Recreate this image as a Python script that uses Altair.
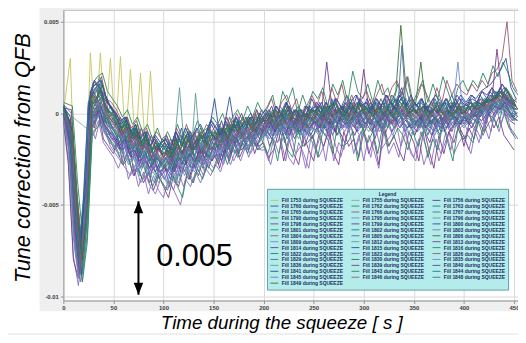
import altair as alt
import pandas as pd

# sampling grid (s): one value every 5 s, each fill sampled with its own small time phase
steps = list(range(0, 91))
phases = [2, 0, 1, 3, 4, 2, 0, 1, 3, 2, 4, 1, 0, 3, 2, 4, 1, 2, 0, 3, 4, 1,
          2, 0, 3, 1, 4, 2, 0, 3, 1, 2, 4, 0, 3, 1, 2, 4, 0, 1, 3, 2, 4]
xtick_values = [0, 50, 100, 150, 200, 250, 300, 350, 400, 450]
ytick_values = [0.005, 0, -0.005, -0.01]
ytick_labels = ["0.005", "0", "-0.005", "-0.01"]

fills = [1753, 1755, 1756, 1760, 1762, 1763, 1765, 1766, 1767, 1790, 1795, 1796,
         1798, 1799, 1800, 1801, 1802, 1803, 1804, 1805, 1806, 1809, 1812, 1813,
         1814, 1815, 1816, 1822, 1823, 1826, 1829, 1830, 1835, 1836, 1839, 1840,
         1841, 1843, 1844, 1845, 1846, 1848, 1849]

# tune correction values, in units of 1e-4
s1753 = [0,30,-55,-78,-50,33,-10,33,-8,30, -12,31,-15,24,-18,22,-20,23,-22,-24, -26,-22,-28,-20,-25,-21,-27,-19,-22,-18, -20]
s1755 = [2,None,None,None,None,-9,8,14,6,-2, -5,-14,-10,-20,-12,-24,-16,-20,-28,-18, -22,-30,-18,-26,-20,-14,-25,-17,-22,-12, -20,-11,-18,-8,-16,-10,-14,-6,-12,-4, -10,-2,-8,-1,-9,0,-7,-3,-10,1, -6,2,-5,4,-3,-1,5,-4,3,-2, 4,-5,2,-6,1,-3,5,-2,6,0, -4,3,-6,1,-5,2,-7,0,4,-3, 2,-4,5,1,7,0,9,4,10,2,5]
s1756 = [1,-18,-70,-90,-62,-4,-8,6,-10,-14, -20,-8,-26,-18,-34,-22,-30,-38,-24,-36, -28,-40,-26,-34,-22,-36,-28,-20,-32,-24, -18,-30,-20,-26,-14,-24,-18,-10,-22,-14, -8,-18,-10,-4,-16,-8,-14,-6,-18,-10, -4,-12,-6,-14,-2,-10,-16,-6,-12,-4, -10,-2,-14,-6,-12,-4,-8,2,-10,-6, -12,-4,-10,-16,-6,-12,-2,-10,-4,-8, -14,-4,-8,2,-6,4,-2,6,0,-4,-6]
s1760 = [3,-8,-48,-75,-40,10,12,18,8,2, 0,-6,-2,-12,-8,-16,-10,-20,-14,-22, -12,-20,-16,-8,-22,-12,-18,-10,-14,-6, -12,-4,-14,-8,-2,-10,-4,-8,2,-6, 0,-4,4,-2,6,0,-6,2,-2,8, 2,6,-2,8,0,4,10,2,6,-1, 8,2,6,0,10,4,8,14,2,6, 0,8,2,-2,6,0,4,10,2,8, 4,10,6,12,8,14,10,16,12,6,8]
s1762 = [-2,-22,-72,-88,-66,-6,-2,10,-8,-12, -14,-22,-12,-26,-18,-30,-20,-28,-34,-22, -32,-24,-36,-20,-30,-26,-18,-30,-22,-26, -14,-24,-20,-12,-22,-10,-18,-14,-6,-16, -4,-12,-8,-2,-14,-6,-10,-12,-2,-8, -10,0,-6,-12,-4,2,-8,-2,-6,4, -4,-10,2,-8,-2,-6,4,-4,-8,0, -8,-2,-12,-4,-10,-6,0,-8,-2,4, -6,2,-4,6,0,8,2,10,6,0,-2]
s1763 = [5,-5,-52,-80,-48,6,14,8,-2,4, -4,-10,-6,-16,-10,-24,-14,-18,-26,-16, -20,-28,-14,-22,-18,-26,-12,-20,-16,-10, -16,-8,-20,-10,-6,-14,-8,-4,-12,-2, -6,0,-10,-2,2,-8,-4,0,-8,2, -2,-8,4,-4,2,-6,0,6,-2,2, 0,6,-4,2,-6,4,8,0,4,-2, 2,-4,4,-6,0,6,-2,2,8,0, 2,-2,6,0,8,4,12,6,14,8,4]
s1765 = [-3,-25,-78,-94,-72,-10,-12,-4,-16,-20, -24,-30,-22,-36,-28,-40,-32,-44,-34,-42, -46,-36,-42,-32,-40,-30,-38,-28,-34,-26, -30,-22,-28,-18,-26,-20,-14,-24,-16,-20, -18,-26,-14,-22,-12,-24,-28,-16,-22,-30, -14,-24,-18,-10,-26,-16,-20,-8,-22,-12, -26,-12,-20,-30,-10,-22,-16,-24,-8,-18, -24,-14,-28,-20,-12,-26,-18,-10,-22,-16, -12,-20,-8,-16,-6,-14,-2,-10,0,-8,-12]
s1766 = [2,-12,-58,-84,-52,4,18,10,12,-2, 2,-4,-12,-6,-16,-10,-18,-22,-12,-20, -16,-24,-12,-20,-14,-22,-10,-18,-12,-8, -14,-6,-12,-2,-10,-8,-4,-10,0,-6, -2,2,-6,4,0,-4,2,-6,4,0, 6,0,4,-2,8,2,-4,4,0,6, 2,8,0,4,-2,6,2,10,4,0, 6,0,-2,4,-4,2,6,0,8,4, 0,6,2,8,4,10,6,12,8,4,6]
s1767 = [0,-10,-62,-86,-58,2,-4,4,-6,-8, -12,-18,-10,-22,-14,-26,-18,-30,-22,-28, -24,-32,-20,-28,-22,-18,-28,-16,-24,-14, -22,-12,-18,-10,-16,-8,-14,-6,-12,-10, -4,-10,-2,-8,0,-6,-10,-2,-8,-4, 0,-6,2,-8,-2,4,-4,0,-6,2, -4,2,-6,0,4,-2,2,-4,6,-2, -6,0,-4,2,-8,-2,-6,2,0,-4, -4,2,-2,4,0,6,2,8,4,-2,0]
s1790 = [4,-6,-44,-70,-38,12,6,16,4,0, -6,-2,-10,-14,-6,-18,-12,-22,-16,-20, -22,-14,-20,-12,-18,-10,-16,-8,-14,-12, -10,-14,-6,-12,-4,-10,-2,-8,-6,0, -6,-2,-8,0,-4,2,-2,-6,0,-4, 2,-2,4,0,6,-4,2,8,0,4, -2,4,0,8,2,6,12,48,14,4, 2,-4,6,0,4,-2,2,6,0,4, 2,6,0,4,8,2,10,6,14,10,4]
s1795 = [-1,-20,-66,-92,-64,-8,0,-6,-12,-10, -18,-14,-24,-20,-30,-24,-34,-28,-36,-30, -38,-28,-34,-26,-32,-24,-30,-22,-28,-20, -26,-18,-24,-14,-22,-16,-20,-12,-18,-10, -14,-8,-16,-6,-12,-10,-4,-12,-8,-14, -6,-10,-2,-8,-12,-4,-8,-2,-10,-6, -8,-4,-10,-2,-6,-12,-4,-8,-6,-10, -10,-6,-8,-12,-4,-10,-6,-2,-8,-4, -10,-6,-2,-6,0,-4,2,0,6,2,-2]
s1796 = [1,-4,-50,-82,-46,8,10,20,2,-6, -2,-10,-4,-14,-10,-20,-14,-22,-18,-24, -18,-26,-16,14,-20,-24,-14,-20,-12,-18, -10,-16,-8,-14,-6,-12,-10,-4,-12,-6, -2,-8,0,-6,2,-4,-8,0,-6,2, -2,4,-4,2,8,-2,0,-6,4,0, 2,-4,4,-2,0,6,2,-2,4,8, 0,4,-4,2,-2,4,0,-4,6,2, -2,4,0,6,2,8,4,10,6,2,4]
s1798 = [-4,-28,-80,-90,-70,-12,-6,2,-14,-18, -22,-16,-28,-24,-34,-30,-38,-32,-42,-34, -40,-46,-34,-40,-30,-36,-28,-34,-24,-30, -22,-28,-18,-24,-16,-22,-14,-20,-12,-18, -16,-24,-20,-10,-26,-14,-22,-28,-12,-20, -26,-12,-18,-8,-22,-28,-10,-18,-14,-24, -10,-22,-14,-28,-6,-18,-12,-20,-26,-10, -16,-26,-8,-20,-30,-12,-22,-10,-16,-6, -18,-8,-14,-4,-10,0,-8,-2,-12,-16,-20]
s1799 = [3,2,-40,-72,-36,14,16,12,6,4, -2,-8,-4,-10,-14,-8,-18,-12,-20,-16, -14,-22,-10,-18,-12,-16,-8,-14,-10,-4, -8,-12,-2,-10,-6,0,-8,-2,-4,2, -2,4,-4,0,6,-2,2,-4,4,0, 6,2,28,4,8,2,6,0,10,4, 6,0,8,4,2,10,6,12,4,8, 4,8,2,6,0,4,8,2,10,6, 4,8,6,12,10,14,8,16,12,8,6]
s1800 = [-2,-16,-64,-86,-60,-2,6,-4,-8,-12, -16,-20,-14,-24,-20,-30,-22,-28,-32,-26, -30,-36,-24,-30,-28,-22,-30,-18,-26,-22, -16,-24,-14,-20,-12,-18,-10,-16,-14,-8, -12,-6,-10,-4,-12,-2,-8,-10,-4,-12, -6,-2,-8,-4,-10,0,-6,-4,2,-8, -2,-6,0,-8,-4,2,-6,-2,-4,-8, -6,-2,-8,-4,-2,-10,-4,0,-6,2, -4,0,-2,2,-4,4,6,2,8,4,0]
s1801 = [6,4,-36,-66,-30,16,20,22,12,8, 4,-2,2,-6,-2,-10,-6,-14,-8,-16, -10,-16,-6,-14,-8,-12,-4,-10,-8,-2, -6,0,-8,-2,2,-4,4,-2,6,0, 4,10,-2,12,6,14,0,10,2,12, 8,14,4,16,10,18,6,23,12,8, 16,6,18,10,14,4,16,8,20,6, 12,18,6,16,8,20,12,4,14,18, 12,18,14,22,16,26,20,28,22,14,10]
s1802 = [0,-14,-56,-84,-56,4,-2,8,-4,-6, -10,-16,-8,-20,-16,-24,-20,-26,-22,-30, -26,-20,-30,-22,-26,-18,-24,-16,-22,-18, -14,-20,-10,-18,-12,-8,-16,-10,-14,-6, -8,-12,-4,-10,-2,-8,-6,-12,-4,-8, -2,-8,0,-6,-4,2,-2,-8,0,-4, 0,-6,-2,-8,2,-4,0,4,-2,-6, -4,-8,0,-6,-2,-8,-4,2,-2,-6, 0,-4,2,-2,4,0,6,2,8,4,2]
s1803 = [-4,-24,-76,-92,-68,-6,-14,-2,-10,-18, -22,-26,-30,-34,-28,-38,-34,-40,-44,-36, -42,-38,-44,-50,-36,-40,-32,-38,-30,-34, -28,-32,-22,-28,-20,-26,-18,-22,-16,-20, -20,-28,-16,-14,-26,-10,-22,-18,-30,-14, -20,-12,-26,-8,-18,-24,-14,-6,-20,-10, -14,-24,-8,-20,-16,-12,-4,-18,-10,-22, -26,-10,-18,-28,-14,-22,-10,-20,-6,-12, -16,-22,-8,-14,-2,-10,4,-6,2,-10,-14]
s1804 = [2,-8,-54,-80,-50,6,10,4,8,-2, -4,-6,-14,-8,-18,-12,-22,-16,-24,-20, -24,-18,-14,-22,-16,-20,-12,-24,-16,-14, -12,-18,-10,-6,-14,-8,-12,-4,-8,-10, -2,-6,-4,2,-6,-2,-8,0,-4,-2, 0,-4,4,-2,2,-6,4,0,-2,6, 2,-2,4,-4,0,8,2,-2,4,0, -2,4,0,-4,2,6,-2,4,0,2, 2,-2,4,2,6,4,10,8,12,6,4]
s1805 = [-1,-12,-60,-88,-62,-2,4,-8,-2,-10, -14,-10,-20,-16,-26,-20,-28,-24,-30,-28, -32,-26,-20,-28,-22,-30,-20,-26,-18,-24, -20,-14,-22,-12,-18,-16,-10,-18,-8,-14, -10,-4,-12,-6,-10,-2,-8,-4,-12,-6, -4,-10,-2,-6,0,-8,-4,2,-6,-2, -6,0,-4,-10,-2,4,-6,37,-4,-8, -6,-2,-8,0,-6,-4,-8,-2,2,-4, -4,0,-6,2,-2,4,0,6,2,-4,-2]
s1806 = [1,-6,-46,-78,-44,10,8,16,6,2, -4,-8,-2,-12,-6,-18,-10,-16,-20,-14, -18,-22,-12,-18,-10,-22,-14,-18,-8,-12, -14,-8,-12,-4,-10,-2,-8,-6,0,-4, -4,2,-6,-2,4,-2,0,-6,2,-2, 4,-2,2,6,0,4,-4,2,6,2, 0,4,-2,6,2,-2,8,4,0,6, 4,-2,2,8,0,4,-2,6,2,0, 4,0,6,4,8,6,12,10,8,6,2]
s1809 = [-3,-20,-70,-90,-66,-4,-6,0,-10,-16, -18,-24,-16,-28,-22,-34,-26,-32,-38,-30, -36,-30,-38,-26,-34,-28,-32,-24,-30,-22, -24,-18,-26,-16,-22,-14,-20,-18,-12,-16, -10,-14,-8,-12,-6,-16,-10,-8,-14,-6, -10,-4,-12,-8,-2,-10,-6,-4,-8,-12, -6,-2,-10,-4,-8,-6,-2,-4,-8,-12, -8,-4,-10,-6,-12,-4,-8,-6,0,-4, -6,-2,-4,0,-2,2,4,0,6,0,-4]
s1812 = [2,-10,-58,-84,-56,0,6,-2,4,-6, -6,-14,-8,-18,-12,-22,-16,-24,-20,-26, -22,-28,-18,-24,-16,-28,11,-20,-14,-22, -16,-10,-18,-12,-14,-8,-16,-6,-12,-8, -6,-10,-2,-8,-4,-6,-10,-2,-8,-4, -2,-6,0,-4,-8,0,-2,2,-4,-2, -2,2,-4,0,-6,2,0,-2,4,-4, -2,2,-6,0,-2,-6,0,2,-4,0, -2,0,2,4,2,6,4,8,6,2,0]
s1813 = [0,-8,-52,-82,-54,4,12,6,0,-4, -8,-4,-12,-16,-10,-22,-18,-20,-26,-18, -24,-20,-26,-18,-22,-14,-20,-16,-12,-18, -12,-16,-8,-14,-10,-6,-12,-4,-10,-6, -4,-8,0,-6,-2,-8,2,-4,-6,0, -4,2,-2,-6,2,0,4,-2,6,2, 24,2,-2,6,0,-4,4,0,2,-2, 2,-2,4,-4,2,0,-4,2,6,0, 0,4,-2,6,4,8,6,10,8,4,2]
s1814 = [-1,-18,-66,-88,-62,-6,2,-4,-8,-14, -14,-20,-18,-24,-22,-28,-26,-32,-28,-34, -30,-34,-28,-32,-26,-30,-24,-28,-22,-26, -22,-26,-16,-22,-14,-20,-16,-12,-18,-12, -8,-14,-6,-12,-10,-4,-12,-8,-10,-14, -8,-6,-10,-4,-12,-6,-8,-2,-10,-4, -6,-10,-4,-8,-2,-10,-6,-4,-8,-6, -10,-4,-8,-12,-6,-8,-4,-10,-2,-6, -4,-8,-2,-4,0,-2,2,4,0,-2,-4]
s1815 = [4,-4,-48,-76,-42,8,18,14,10,4, 0,-6,-2,-12,-8,-14,-10,-18,-14,-20, -16,-20,-12,-18,-14,-10,-20,-12,-16,-8, 8,-12,-6,9,-8,-4,-10,-2,-6,0, -4,0,-6,2,-2,4,-4,2,-2,4, 0,6,-2,4,2,-4,6,2,0,8, 4,0,6,2,8,0,4,10,6,2, 6,2,4,0,8,2,6,-2,4,8, 4,8,2,10,6,12,8,14,10,6,4]
s1816 = [-2,-22,-74,-92,-70,-10,-8,-2,-12,-16, -20,-28,-22,-32,-30,-36,-28,-40,-34,-38, -42,-34,-40,-46,-32,-38,-30,-36,-28,-32, -26,-20,-28,-18,-24,-16,-22,-14,-20,-16, -22,-14,-26,-10,-20,-24,-8,-18,-16,-12, -24,-10,-14,-22,-6,-18,-16,-10,-26,-8, -16,-10,-22,-6,-18,-14,-8,-12,-20,-10, -18,-10,-24,-14,-20,-6,-16,-26,-8,-14, -12,-16,-4,-12,-6,-2,-8,4,-6,-10,-14]
s1822 = [3,-6,-50,-78,-46,8,4,14,2,0, -2,-8,-6,-14,-10,-18,-12,-22,-18,-16, -20,-24,-18,-14,-22,-16,-20,-12,-18,-10, -14,-8,-12,-6,-10,-4,-8,-2,-10,-4, -2,-6,2,-4,0,-2,-6,2,-4,0, 2,-2,6,0,-4,4,0,6,2,-2, 4,0,2,-2,6,2,-4,4,8,2, 0,6,2,-2,4,0,6,2,-2,4, 2,4,6,2,8,6,10,12,8,4,2]
s1823 = [-2,-14,-62,-88,-60,-2,0,6,-6,-10, -12,-18,-14,-22,-16,-28,-22,-26,-30,-24, -28,-32,-22,-30,-20,-26,-24,-18,-28,-20, -18,-22,-14,-20,-10,-18,-14,-8,-16,-12, -6,-12,-8,-4,-10,-6,-12,-4,-8,-10, -4,-8,-2,-10,-6,-2,-8,-4,0,-6, -8,-4,-6,0,-8,-2,-6,-4,0,-6, -4,-8,-2,-6,-10,-4,-2,-8,-4,0, -4,-2,2,0,4,2,6,4,8,2,-2]
s1826 = [5,0,-42,-70,-36,12,14,20,8,6, 2,-4,-2,-8,-4,-12,-8,-16,-10,-14, -12,-18,-8,-14,-6,-16,-10,-12,-6,-10, -6,-10,-2,-8,0,-6,-2,-8,2,-4, 2,8,-2,6,10,2,8,-4,4,10, 4,12,2,14,6,16,4,10,2,8, 12,4,10,16,6,14,18,10,20,6, 8,16,10,4,14,6,18,10,16,12, 10,16,12,18,14,22,24,30,50,18,12]
s1829 = [0,-16,-60,-86,-58,2,-6,2,-4,-8, -12,-16,-10,-22,-18,-24,-20,-30,-24,-26, -28,-24,-30,-20,-26,-22,-16,-26,-20,-24, -16,-20,-12,-18,-14,-10,-16,-10,-12,-8, -10,-4,-8,-6,-2,-10,-8,-4,-10,-2, -6,-2,-8,0,-4,-6,2,-4,-2,-6, -2,-6,0,-4,-8,0,-4,2,-2,-6, -6,0,-4,-8,-2,-6,-4,0,-2,-6, -2,-4,2,0,4,2,8,6,4,0,-2]
s1830 = [2,-6,-50,-80,-48,6,8,12,4,-2, -4,-10,-4,-14,-8,-16,-12,-22,-16,-18, -18,-24,-14,-20,-12,-18,-16,-10,-20,-12, -12,-16,-8,-12,-4,-10,-6,-2,-8,-4, 0,-4,2,-2,4,-4,0,2,-4,2, 0,4,-2,2,6,0,4,-4,2,6, 2,6,0,4,-2,6,2,8,4,0, 6,28,4,0,6,2,8,4,0,6, 2,6,4,8,6,10,8,12,10,6,4]
s1835 = [1,-10,-56,-84,-54,2,2,8,-2,-6, -8,-14,-10,-18,-14,-22,-18,-24,-22,-26, -24,-28,-20,-24,-18,-26,-20,-16,-22,-14, -16,-12,-18,-10,-14,-8,-12,-10,-6,-12, -4,-8,-2,-10,-4,-6,-8,-2,-6,-4, -2,-6,2,-4,0,-2,-6,2,-2,0, -4,0,-2,2,-4,0,4,-2,0,-4, -2,2,-4,0,-2,4,-2,2,28,0, -2,0,4,2,4,6,4,8,6,2,0]
s1836 = [-3,-20,-68,-90,-64,-4,-4,4,-10,-14, -18,-22,-20,-28,-24,-32,-26,-34,-32,-38, -34,-40,-32,-38,-28,-34,-26,-32,-24,-28, -22,-26,-18,-22,-16,-20,-12,-18,-14,-16, -12,-8,-14,-10,-6,-12,-8,-14,-6,-10, -8,-12,-4,-10,-6,-8,-2,-10,-6,-8, -6,-10,-4,-8,-6,-2,-8,-4,-6,-10, -8,-4,-10,-6,-8,-12,-6,-4,-8,-4, -8,-4,-6,-2,0,-2,2,0,4,-2,-4]
s1839 = [0,-8,-54,-82,-52,4,8,10,0,-4, -6,-12,-8,-16,-12,-20,-16,-24,-18,-22, -22,-26,-18,-22,-16,-20,-14,-22,-16,-14, -14,-10,-16,-8,-12,-6,-10,-8,-4,-10, -2,-8,-4,0,-6,-2,-4,-8,0,-4, 0,-4,2,-2,4,-2,0,4,-2,2, -2,4,0,-4,2,0,6,2,-2,4, 0,-2,4,-2,2,-4,2,0,6,2, 0,4,2,6,4,8,35,10,8,4,2]
s1840 = [-1,-16,-64,-88,-60,-2,-2,2,-6,-10, -14,-18,-14,-22,-20,-26,-24,-30,-26,-32, -30,-26,-32,-24,-28,-22,-26,-20,-24,-18, -20,-16,-22,-14,-16,-10,-14,-12,-8,-14, -8,-4,-10,-6,-8,-12,-4,-10,-6,-8, -4,-8,-2,-6,-10,-2,-6,-4,-8,0, -6,-2,-8,-4,0,-6,-2,-8,-4,-2, -6,-2,-8,-4,-6,-2,-10,-4,-2,-6, -2,-6,0,-2,2,0,4,2,6,0,-2]
s1841 = [4,-2,-44,-74,-40,12,16,18,10,4, 0,-4,-2,-10,-6,-14,-10,-18,-12,-16, -14,-20,-10,-16,-8,-14,-10,-6,-12,-4, -8,-12,-4,-10,-2,-8,-4,0,-6,-2, 2,-2,4,0,6,-2,2,-4,4,2, 4,0,6,2,8,4,0,6,10,4, 6,2,8,4,10,6,2,8,4,10, 4,8,2,6,10,4,8,2,6,10, 6,10,8,12,14,16,20,24,30,14,8]
s1843 = [0,-12,-60,-86,-58,0,4,-4,-2,-8, -10,-16,-12,-20,-16,-24,-20,-28,-24,-30, -26,-32,-22,-28,-24,-20,-28,-18,-24,-16, -18,-14,-20,-12,-16,-10,-14,-8,-12,-10, -8,-4,-10,-2,-8,-6,-10,-4,-8,-2, -4,-8,-2,-6,-4,0,-6,-2,-4,-8, -4,0,-6,-2,-8,-2,2,-4,0,-6, -4,-8,-2,-6,-4,0,-4,-2,-6,-2, -4,-2,0,2,4,2,6,4,2,-2,-4]
s1844 = [3,-4,-48,-78,-46,6,12,16,6,2, -2,-8,-4,-12,-8,-18,-14,-16,-22,-16, -20,-16,-22,-14,-18,-12,-20,-14,-16,-10, -12,-6,-14,-8,-10,-4,-8,-2,-8,-4, -2,2,-4,-2,2,-4,0,4,-2,0, 2,-2,4,0,6,2,-2,4,0,6, 4,0,6,2,-2,4,8,2,6,0, 2,6,0,4,2,8,4,0,6,2, 4,2,6,4,8,6,12,10,14,8,4]
s1845 = [-2,-18,-66,-90,-62,-4,-4,0,-10,-12, -16,-20,-18,-26,-22,-30,-24,-34,-28,-32, -36,-30,-34,-28,-32,-26,-30,-22,-28,-24, -20,-24,-16,-20,-14,-18,-12,-16,-10,-14, -10,-6,-12,-8,-10,-4,-10,-6,-12,-8, -6,-10,-4,-8,-2,-6,-10,-4,-6,-2, -8,-4,-6,-10,-2,-6,-4,-8,-2,-6, -8,-4,-6,-10,-4,-8,-2,-6,-4,-8, -6,-2,-4,0,-2,2,0,4,2,-2,-4]
s1846 = [1,-10,-56,-84,-54,4,2,6,0,-4, -8,-12,-8,-18,-14,-20,-18,-24,-20,-26, -22,-28,-20,-24,-18,-22,-16,-24,-18,-20, -14,-18,-12,-16,-10,-14,-8,-12,-6,-10, -6,-2,-8,-4,-6,0,-6,-2,-8,-4, -2,-6,0,-4,2,-2,-4,0,-2,2, 0,-4,2,-2,0,-6,0,4,-2,0, -2,2,-4,0,-2,2,-4,0,2,-2, 0,-2,2,4,2,6,8,6,10,4,2]
s1848 = [0,-12,-58,-86,-56,2,0,4,-4,-6, -10,-14,-12,-20,-16,-22,-18,-26,-22,-28, -24,-30,-22,-26,-20,-24,-18,-22,-16,-20, -16,-12,-18,-10,-14,-12,-8,-14,-10,-6, -8,-4,-6,-10,-2,-6,-8,-4,-6,-2, -6,-2,-4,-8,0,-4,-2,-6,-2,-4, -2,-6,0,-4,-2,2,-4,0,-2,-4, -2,-6,0,-4,-2,-6,0,-2,2,-2, -2,0,-2,4,0,4,6,8,4,0,0]
s1849 = [2,-8,-52,-80,-50,6,6,10,2,0, -4,-10,-6,-14,-10,-18,-14,-20,-18,-22, -20,-24,-16,-22,-14,-20,-16,-12,-18,-10, -12,-8,-14,-6,-10,-6,-4,-10,-2,-6, -4,0,-6,-2,2,-2,-4,0,-2,2, 0,-2,4,-2,2,0,-2,4,0,2, 2,-2,4,0,2,-2,4,6,0,2, 0,4,-2,2,4,0,2,-2,4,0, 2,4,2,6,6,8,10,8,12,6,2]

series_values = [s1753, s1755, s1756, s1760, s1762, s1763, s1765, s1766, s1767, s1790,
                 s1795, s1796, s1798, s1799, s1800, s1801, s1802, s1803, s1804, s1805,
                 s1806, s1809, s1812, s1813, s1814, s1815, s1816, s1822, s1823, s1826,
                 s1829, s1830, s1835, s1836, s1839, s1840, s1841, s1843, s1844, s1845,
                 s1846, s1848, s1849]

# annotation values
arrow_t = [75]
arrow_top = [-0.0048]
arrow_bottom = [-0.0099]
note_t = [131]
note_v = [-0.00785]
note_text = ["0.005"]

# ---- build tables
labels = [f"Fill {f} during SQUEEZE" for f in fills]
rows = []
for lab, ph, vals in zip(labels, phases, series_values):
    for k, v in zip(steps, vals):
        if v is None:
            continue
        t = 0 if k == 0 else 5 * k + ph
        rows.append({"t": t, "v": v * 1e-4, "fill": lab})
df = pd.DataFrame(rows)

palette = ["#6a3d9a", "#2c4fa3", "#2a8a5c", "#1e7b8c", "#8a6cc0", "#9b5674",
           "#4c6d99", "#3e7040", "#6b8fcc", "#5c9c9c", "#7b3c8e"]
colors = ["#c9c35c", "#8fa8a8"] + [palette[i % len(palette)] for i in range(len(fills) - 2)]

xscale = alt.Scale(domain=[0, 454], nice=False, zero=False)
yscale = alt.Scale(domain=[-0.010215, 0.005645], nice=False, zero=False)

ylabel_expr = " : ".join(f"datum.value == {v} ? '{l}'" for v, l in zip(ytick_values, ytick_labels)) + " : ''"

axis_common = dict(
    title=None, grid=True, gridColor="#d9d9d9", gridWidth=1,
    domainColor="#a0a0a0", tickColor="#909090", tickSize=3,
    labelFont="Liberation Sans", labelFontWeight="bold", labelFontSize=6,
    labelColor="#3a3a3a",
)
xaxis = alt.Axis(values=xtick_values, labelFlush=False, labelPadding=1, **axis_common)
yaxis = alt.Axis(values=ytick_values, labelExpr=ylabel_expr, labelPadding=2, **axis_common)

lines = alt.Chart(df).mark_line(strokeWidth=1.0, opacity=0.9, clip=True).encode(
    x=alt.X("t:Q", scale=xscale, axis=xaxis),
    y=alt.Y("v:Q", scale=yscale, axis=yaxis),
    color=alt.Color(
        "fill:N",
        scale=alt.Scale(domain=labels, range=colors),
        legend=alt.Legend(
            orient="none", legendX=206, legendY=181, columns=3, symbolLimit=0,
            direction="horizontal",
            title="Legend", titleFont="Liberation Sans", titleFontSize=5,
            titleFontWeight="bold", titleColor="#1a2b5c", titleAnchor="middle",
            titlePadding=1,
            labelFont="Liberation Sans", labelFontSize=5, labelFontWeight="bold",
            labelColor="#1a2b5c", labelLimit=90, labelOffset=5,
            symbolType="M-2,0H2", symbolSize=16, symbolStrokeWidth=1,
            symbolOffset=2,
            rowPadding=-0.4, columnPadding=6, padding=3,
            fillColor="#b4ebeb", strokeColor="#5f9ea6",
        ),
    ),
)

ann = pd.DataFrame({"t": arrow_t, "v": arrow_top, "v2": arrow_bottom})
arrow_line = alt.Chart(ann).mark_rule(color="black", strokeWidth=2).encode(
    x=alt.X("t:Q", scale=xscale, axis=xaxis),
    y=alt.Y("v:Q", scale=yscale, axis=yaxis),
    y2="v2:Q",
)
head_up = alt.Chart(ann).mark_point(
    shape="M0,-1L0.8,1L-0.8,1Z", size=144, filled=True, color="black", opacity=1, yOffset=6
).encode(x=alt.X("t:Q", scale=xscale, axis=xaxis), y=alt.Y("v:Q", scale=yscale, axis=yaxis))
head_down = alt.Chart(ann).mark_point(
    shape="M0,1L0.8,-1L-0.8,-1Z", size=144, filled=True, color="black", opacity=1, yOffset=-6
).encode(x=alt.X("t:Q", scale=xscale, axis=xaxis), y=alt.Y("v2:Q", scale=yscale, axis=yaxis))

note = alt.Chart(pd.DataFrame({"t": note_t, "v": note_v, "txt": note_text})).mark_text(
    font="Liberation Sans", fontSize=31, color="black", align="center", baseline="middle"
).encode(x=alt.X("t:Q", scale=xscale, axis=xaxis), y=alt.Y("v:Q", scale=yscale, axis=yaxis), text="txt:N")

one = alt.InlineData(values=[{"k": 0}])
white_left = alt.Chart(one).mark_rect(color="white").encode(
    x=alt.value(-56), x2=alt.value(-24), y=alt.value(-2), y2=alt.value(327))
white_bottom = alt.Chart(one).mark_rect(color="white").encode(
    x=alt.value(-56), x2=alt.value(462), y=alt.value(305), y2=alt.value(327))

ytitle = alt.Chart(one).mark_text(
    text="Tune correction from QFB", font="Liberation Sans", fontSize=22, fontStyle="italic",
    angle=270, align="center", baseline="middle", color="black"
).encode(x=alt.value(-41), y=alt.value(150))
xtitle = alt.Chart(one).mark_text(
    text="Time during the squeeze [ s ]", font="Liberation Sans", fontSize=19, fontStyle="italic",
    align="center", baseline="alphabetic", color="black"
).encode(x=alt.value(221), y=alt.value(323))

chart = alt.layer(
    lines, arrow_line, head_up, head_down, note, white_left, white_bottom, ytitle, xtitle
).properties(
    width=460, height=294,
    padding={"left": 56, "top": 0, "right": 0, "bottom": 33},
    autosize=alt.AutoSizeParams(type="none"),
    background="#efefef",
).configure_view(fill="white", stroke="#c2c2c2", strokeWidth=1)

chart.save("out.html", embed_options={"renderer": "svg", "actions": False})
